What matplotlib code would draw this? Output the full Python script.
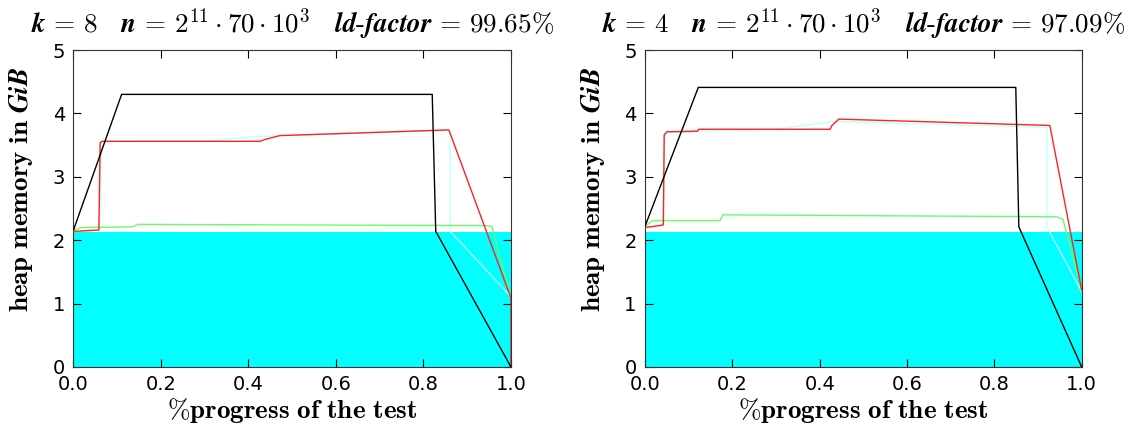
import matplotlib
matplotlib.use("Agg")
import matplotlib.pyplot as plt

plt.rcParams['mathtext.fontset'] = 'cm'
plt.rcParams['font.family'] = ['DejaVu Sans']

# ---- data ----
titles = [r"$\boldsymbol{k}\,=\,\mathbf{8}\quad \boldsymbol{n}\,=\,\mathbf{2^{11}\cdot 70\cdot 10^{3}}\quad \boldsymbol{ld}\mathbf{\text{-}}\boldsymbol{factor}\,=\,\mathbf{99.65\%}$",
          r"$\boldsymbol{k}\,=\,\mathbf{4}\quad \boldsymbol{n}\,=\,\mathbf{2^{11}\cdot 70\cdot 10^{3}}\quad \boldsymbol{ld}\mathbf{\text{-}}\boldsymbol{factor}\,=\,\mathbf{97.09\%}$"]
fill_level = [2.13, 2.13]

black_L_x = [0, 0.110, 0.820, 0.828, 1.0]
black_L_y = [2.16, 4.30, 4.30, 2.14, 0.0]
red_L_x = [0, 0.058, 0.061, 0.066, 0.426, 0.438, 0.472, 0.858, 1.0, 1.0]
red_L_y = [2.14, 2.16, 3.54, 3.56, 3.56, 3.59, 3.65, 3.74, 1.09, 0.0]
cyan_L_x = [0, 0.060, 0.064, 0.068, 0.30, 0.41, 0.472, 0.861, 0.861, 1.0]
cyan_L_y = [2.14, 2.15, 3.53, 3.55, 3.56, 3.63, 3.65, 3.73, 2.14, 1.11]
green_L_x = [0, 0.019, 0.135, 0.148, 0.937, 0.956, 1.0]
green_L_y = [2.16, 2.20, 2.21, 2.25, 2.23, 2.22, 1.09]

black_R_x = [0, 0.122, 0.849, 0.856, 1.0]
black_R_y = [2.22, 4.41, 4.41, 2.21, 0.0]
red_R_x = [0, 0.042, 0.044, 0.050, 0.120, 0.123, 0.424, 0.428, 0.444, 0.927, 1.0]
red_R_y = [2.20, 2.24, 3.66, 3.71, 3.72, 3.75, 3.75, 3.81, 3.91, 3.81, 1.21]
cyan_R_x = [0, 0.040, 0.042, 0.046, 0.110, 0.115, 0.30, 0.43, 0.45, 0.920, 0.920, 1.0]
cyan_R_y = [2.20, 2.22, 3.66, 3.70, 3.70, 3.72, 3.75, 3.87, 3.87, 3.78, 2.21, 1.19]
green_R_x = [0, 0.018, 0.172, 0.178, 0.942, 0.957, 1.0]
green_R_y = [2.22, 2.31, 2.31, 2.40, 2.37, 2.33, 1.21]

xticks = [0.0, 0.2, 0.4, 0.6, 0.8, 1.0]
yticks = [0, 1, 2, 3, 4, 5]

panels = [
    dict(black=(black_L_x, black_L_y), red=(red_L_x, red_L_y),
         cyan=(cyan_L_x, cyan_L_y), green=(green_L_x, green_L_y)),
    dict(black=(black_R_x, black_R_y), red=(red_R_x, red_R_y),
         cyan=(cyan_R_x, cyan_R_y), green=(green_R_x, green_R_y)),
]

fig = plt.figure(figsize=(11.34, 4.26), dpi=100)
positions = [[0.0648, 0.1385, 0.3858, 0.7441], [0.5688, 0.1385, 0.3851, 0.7441]]

for i, (pos, p) in enumerate(zip(positions, panels)):
    ax = fig.add_axes(pos)
    ax.fill_between([0, 1], [fill_level[i]] * 2, 0, color='#00ffff', lw=0, zorder=1)
    ax.plot(*p['cyan'], color='#c0ffff', lw=1.0, zorder=2)
    ax.plot(*p['green'], color='#66ff66', lw=1.0, zorder=3)
    ax.plot(*p['red'], color='#ff2020', lw=1.0, zorder=4)
    ax.plot(*p['black'], color='black', lw=1.0, zorder=5)
    ax.set_xlim(0, 1)
    ax.set_ylim(0, 5)
    ax.set_xticks(xticks)
    ax.set_yticks(yticks)
    ax.set_xticklabels([f"{v:.1f}" for v in xticks])
    ax.tick_params(direction='in', top=True, right=True, labelsize=14, length=6, pad=6)
    for s in ax.spines.values():
        s.set_color('#333333')
    ax.set_title(titles[i], fontsize=19.5, pad=12)
    ax.set_xlabel(r"$\mathbf{\%progress\ of\ the\ test}$", fontsize=19.5, labelpad=1)
    ax.set_ylabel(r"$\mathbf{heap\ memory\ in}\ \boldsymbol{GiB}$", fontsize=19.5)
    ax.yaxis.set_label_coords(-0.088, 0.56)

fig.savefig("out.png", dpi=100)
